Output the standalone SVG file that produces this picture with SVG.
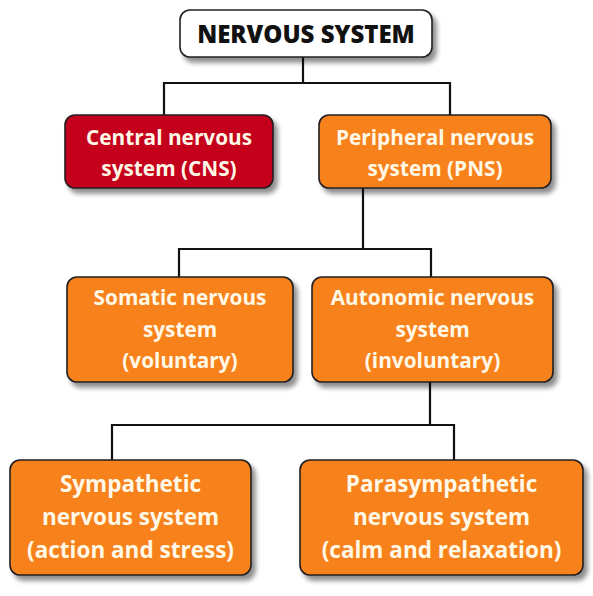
<svg xmlns="http://www.w3.org/2000/svg" width="593" height="596" viewBox="0 0 593 596">
<defs>
<filter id="sh" x="-10%" y="-10%" width="130%" height="140%">
<feGaussianBlur in="SourceAlpha" stdDeviation="2.5"/>
<feOffset dx="4" dy="5" result="b"/>
<feComponentTransfer><feFuncA type="linear" slope="0.45"/></feComponentTransfer>
<feMerge><feMergeNode/><feMergeNode in="SourceGraphic"/></feMerge>
</filter>
</defs>
<style>
.box{stroke:#231f20;stroke-width:1.6;filter:url(#sh)}
.or{fill:#f7821e}
.rd{fill:#c5001a}
.wh{fill:#ffffff}
.t{font-family:"Open Sans","Noto Sans","Liberation Sans",sans-serif;font-weight:bold;text-anchor:middle;fill:#fff8e6}
.t2{font-size:20.8px}
.t4{font-size:22.5px}
.top{font-family:"Open Sans","Liberation Sans",sans-serif;font-weight:800;font-size:24px;text-anchor:middle;fill:#111}
.ln{fill:none;stroke:#111;stroke-width:2.2}
</style>
<rect x="0" y="0" width="593" height="596" fill="#ffffff"/>
<g id="connectors">
<path class="ln" d="M303 57V83M164 115V83H450V115"/>
<path class="ln" d="M363 188V249M179 277V249H431V277"/>
<path class="ln" d="M430 382V425M112 460V425H454V460"/>
</g>
<g id="nervous-system">
<rect class="box wh" x="180" y="10" width="252" height="47" rx="10"/>
<text class="top" x="306" y="43">NERVOUS SYSTEM</text>
</g>
<g id="cns">
<rect class="box rd" x="65" y="115" width="208" height="73" rx="10"/>
<text class="t t2" x="169" y="145">Central nervous</text>
<text class="t t2" x="169" y="176">system (CNS)</text>
</g>
<g id="pns">
<rect class="box or" x="319" y="115" width="232" height="73" rx="10"/>
<text class="t t2" x="435" y="145">Peripheral nervous</text>
<text class="t t2" x="435" y="176">system (PNS)</text>
</g>
<g id="somatic">
<rect class="box or" x="67" y="277" width="226" height="105" rx="10"/>
<text class="t t2" x="180" y="305">Somatic nervous</text>
<text class="t t2" x="180" y="337">system</text>
<text class="t t2" x="180" y="368">(voluntary)</text>
</g>
<g id="autonomic">
<rect class="box or" x="312" y="277" width="241" height="105" rx="10"/>
<text class="t t2" x="432.5" y="305">Autonomic nervous</text>
<text class="t t2" x="432.5" y="337">system</text>
<text class="t t2" x="432.5" y="368">(involuntary)</text>
</g>
<g id="sympathetic">
<rect class="box or" x="10" y="460" width="241" height="115" rx="10"/>
<text class="t t4" x="130.5" y="492">Sympathetic</text>
<text class="t t4" x="130.5" y="525">nervous system</text>
<text class="t t4" x="130.5" y="558">(action and stress)</text>
</g>
<g id="parasympathetic">
<rect class="box or" x="300" y="460" width="283" height="115" rx="10"/>
<text class="t t4" x="441.5" y="492">Parasympathetic</text>
<text class="t t4" x="441.5" y="525">nervous system</text>
<text class="t t4" x="441.5" y="558">(calm and relaxation)</text>
</g>
</svg>
